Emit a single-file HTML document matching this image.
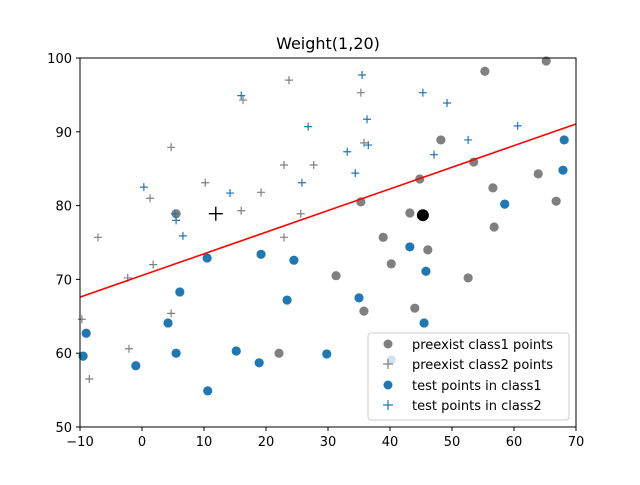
<!DOCTYPE html>
<html><head><meta charset="utf-8"><style>
body{margin:0;background:#fff;}
svg{font-family:"DejaVu Sans","Liberation Sans",sans-serif;}
</style></head><body>
<svg id="chart" width="640" height="480" viewBox="0 0 640 480" xmlns="http://www.w3.org/2000/svg">
<rect width="640" height="480" fill="#fff"/>
<text x="328" y="49" font-size="16" text-anchor="middle">Weight(1,20)</text>
<g id="plot"></g>
<rect x="80" y="58" width="496" height="369" fill="none" stroke="#000" stroke-width="1"/>
<g id="axes"></g>
<g>
<rect x="368" y="333" width="201" height="87" rx="3" fill="#fff" fill-opacity="0.8" stroke="#ccc"/>
<circle cx="388" cy="344" r="4.5" fill="#808080"/>
<text x="412" y="349" font-size="13">preexist class1 points</text>
<path d="M383 364h10M388 359v10" stroke="#808080" stroke-width="1.2"/>
<text x="412" y="369" font-size="13">preexist class2 points</text>
<circle cx="388" cy="385" r="4.5" fill="#1f77b4"/>
<text x="412" y="390" font-size="13">test points in class1</text>
<path d="M383 405h10M388 400v10" stroke="#1f77b4" stroke-width="1.2"/>
<text x="412" y="410" font-size="13">test points in class2</text>
</g>
</svg>
<script>
const xTicks=[-10,0,10,20,30,40,50,60,70];
const yTicks=[50,60,70,80,90,100];
const pre1X=[55.3,65.2,48.2,53.5,44.8,35.3,43.2,63.9,56.6,66.8,56.8,38.9,46.1,40.2,31.3,52.6,35.8,44.0,5.5,22.1];
const pre1Y=[98.2,99.6,88.9,85.9,83.6,80.5,79.0,84.3,82.4,80.6,77.1,75.7,74.0,72.1,70.5,70.2,65.7,66.1,78.9,60.0];
const pre2X=[23.7,16.3,4.7,22.9,27.7,10.2,19.2,1.3,16.0,25.6,-7.1,22.9,1.8,-2.3,4.7,-9.7,-2.1,-8.5,35.3,35.8];
const pre2Y=[97.0,94.3,87.9,85.5,85.5,83.1,81.8,81.0,79.3,78.9,75.7,75.7,72.0,70.2,65.4,64.6,60.6,56.5,95.3,88.5];
const t1X=[10.5,19.2,24.5,6.1,23.4,4.2,-9.0,-9.5,5.5,15.2,18.9,-1.0,10.6,29.8,68.1,67.9,58.5,43.2,45.8,35.0,45.5,40.2];
const t1Y=[72.9,73.4,72.6,68.3,67.2,64.1,62.7,59.6,60.0,60.3,58.7,58.3,54.9,59.9,88.9,84.8,80.2,74.4,71.1,67.5,64.1,59.1];
const t2X=[16.0,26.8,0.3,14.2,25.8,5.3,5.5,6.6,35.5,45.3,49.2,36.3,60.6,52.6,36.5,33.1,47.1,34.4];
const t2Y=[94.9,90.7,82.5,81.7,83.1,78.9,78.0,75.9,97.7,95.3,93.9,91.7,90.8,88.9,88.2,87.3,86.9,84.4];
const lineX=[-10,70];
const lineY=[67.6,91.06];
const newClass1=[45.3,78.7];
const newClass2=[11.9,78.9];

const NS="http://www.w3.org/2000/svg";
const sx=v=>80+(v+10)*6.2;
const sy=v=>427-(v-50)*7.38;
const plot=document.getElementById('plot');
const axes=document.getElementById('axes');
function mk(tag,attrs,parent){const e=document.createElementNS(NS,tag);for(const k in attrs)e.setAttribute(k,attrs[k]);parent.appendChild(e);return e;}
function circ(x,y,r,fill,name){const c=mk('circle',{cx:sx(x),cy:sy(y),r:r,fill:fill},plot);

}
function plus(x,y,h,col,w,name){const X=sx(x),Y=sy(y);const p=mk('path',{d:`M${X-h} ${Y}h${2*h}M${X} ${Y-h}v${2*h}`,stroke:col,'stroke-width':w,fill:'none'},plot);

}
pre1X.forEach((x,i)=>circ(x,pre1Y[i],4.6,'#808080','preexist-class1-point'));
pre2X.forEach((x,i)=>plus(x,pre2Y[i],4,'#808080',1.2,'preexist-class2-point'));
t1X.forEach((x,i)=>circ(x,t1Y[i],4.6,'#1f77b4','test-class1-point'));
t2X.forEach((x,i)=>plus(x,t2Y[i],4,'#1f77b4',1.2,'test-class2-point'));
const ln=mk('line',{x1:sx(lineX[0]),y1:sy(lineY[0]),x2:sx(lineX[1]),y2:sy(lineY[1]),stroke:'#ff0000','stroke-width':1.6},plot);


circ(newClass1[0],newClass1[1],6,'#000','new-point-class1');
plus(newClass2[0],newClass2[1],7,'#000',1.4,'new-point-class2');
xTicks.forEach(v=>{const X=sx(v);
const t=mk('line',{x1:X,y1:427,x2:X,y2:431,stroke:'#000'},axes);


const l=mk('text',{x:X,y:446,'font-size':13,'text-anchor':'middle'},axes);l.textContent=v<0?'\u2212'+(-v):v;

});
yTicks.forEach(v=>{const Y=sy(v);
const t=mk('line',{x1:76,y1:Y,x2:80,y2:Y,stroke:'#000'},axes);


const l=mk('text',{x:72,y:Y+5,'font-size':13,'text-anchor':'end'},axes);l.textContent=v;

});
</script>
</body></html>
